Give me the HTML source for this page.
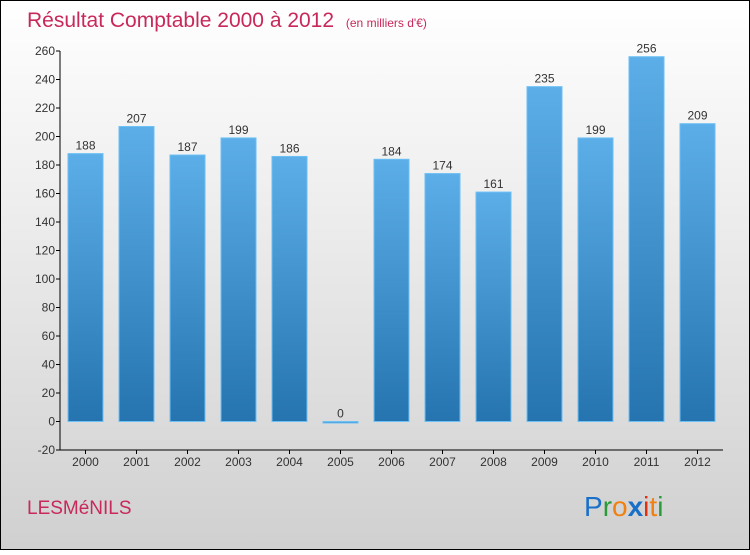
<!DOCTYPE html>
<html><head><meta charset="utf-8"><style>
html,body{margin:0;padding:0}
body{width:750px;height:550px;overflow:hidden;font-family:"Liberation Sans",sans-serif}
</style></head><body>
<svg id="chart" width="750" height="550" xmlns="http://www.w3.org/2000/svg">
<defs>
<linearGradient id="bg" x1="0" y1="0" x2="0" y2="1"><stop offset="0" stop-color="#ffffff"/><stop offset="1" stop-color="#d0d0d0"/></linearGradient>
<linearGradient id="bar" x1="0" y1="0" x2="0" y2="1"><stop offset="0" stop-color="#5caee8"/><stop offset="1" stop-color="#2574b0"/></linearGradient>
</defs>
<rect x="0.5" y="0.5" width="749" height="549" fill="url(#bg)" stroke="#000"/>
<text x="27" y="27" font-size="21" fill="#c8285a">Résultat Comptable 2000 à 2012 <tspan font-size="12" dx="6">(en milliers d'€)</tspan></text>
<text x="27" y="514" font-size="19" fill="#c8285a">LESMéNILS</text>
<g font-size="28" font-family="'Liberation Sans',sans-serif">
<text x="584" y="516"><tspan fill="#1a70c8">P</tspan><tspan fill="#2a9a3a">r</tspan><tspan fill="#f08010">o</tspan><tspan fill="#1a70c8" font-weight="bold">x</tspan><tspan fill="#e03010">i</tspan><tspan fill="#f08010">t</tspan><tspan fill="#2a9a3a">i</tspan></text>
</g>
<g id="axes"></g>
<g id="bars"></g>
</svg>
<script>
const years=["2000","2001","2002","2003","2004","2005","2006","2007","2008","2009","2010","2011","2012"];
const values=[188,207,187,199,186,0,184,174,161,235,199,256,209];
const yTicks=[-20,0,20,40,60,80,100,120,140,160,180,200,220,240,260];
const NS="http://www.w3.org/2000/svg";
const x0=60,x1=723,yMin=-20,yMax=260,pyMin=450,pyMax=51;
const band=(x1-x0)/years.length;
const y=v=>pyMin-(v-yMin)*(pyMin-pyMax)/(yMax-yMin);
const xc=i=>x0+band*(i+0.5);
function mk(t,a,p){const e=document.createElementNS(NS,t);for(const k in a)e.setAttribute(k,a[k]);p.appendChild(e);return e;}
const ax=document.getElementById('axes'),bg=document.getElementById('bars');
const yl=mk('line',{x1:x0,y1:pyMin,x2:x0,y2:pyMax,stroke:'#000'},ax);


const xl=mk('line',{x1:x0,y1:pyMin,x2:x1,y2:pyMin,stroke:'#000'},ax);


yTicks.forEach(v=>{
  mk('line',{x1:x0-4,x2:x0,y1:y(v),y2:y(v),stroke:'#000'},ax);
  const t=mk('text',{x:x0-5,y:y(v)+4,'text-anchor':'end','font-size':12,fill:'#333'},ax);
  t.textContent=v;
  
  
});
years.forEach((yr,i)=>{
  const c=xc(i);
  mk('line',{x1:c,x2:c,y1:pyMin,y2:pyMin+4,stroke:'#000'},ax);
  const t=mk('text',{x:c,y:pyMin+16,'text-anchor':'middle','font-size':12,fill:'#333'},ax);
  t.textContent=yr;
  
  
  const v=values[i],top=y(Math.max(v,0)),bot=y(Math.min(v,0));
  const r=mk('rect',{x:c-17.5,y:top,width:35,height:Math.max(bot-top,1.5),fill:'url(#bar)',stroke:'#6cc0f4','stroke-width':1},bg);
  
  
  const l=mk('text',{x:c,y:top-4,'text-anchor':'middle','font-size':12,fill:'#333'},bg);
  l.textContent=v;
  
  
});
</script>
</body></html>
